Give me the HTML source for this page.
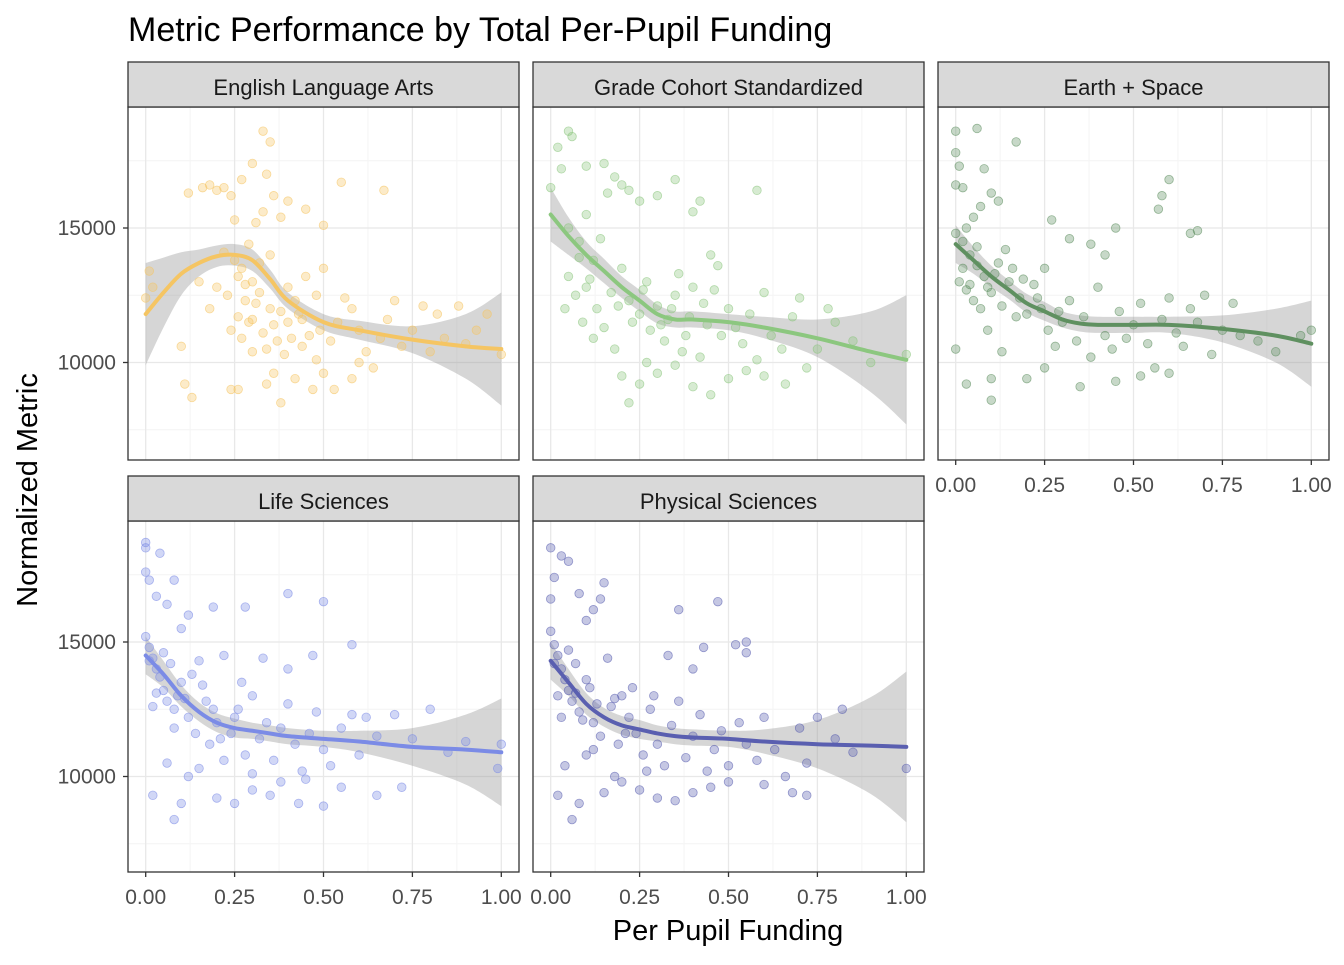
<!DOCTYPE html>
<html><head><meta charset="utf-8"><style>
html,body{margin:0;padding:0;background:#fff;}
svg text{font-family:"Liberation Sans",Arial,sans-serif;}
</style></head><body>
<svg id="chart" width="1344" height="960" viewBox="0 0 1344 960" xmlns="http://www.w3.org/2000/svg">
<rect width="1344" height="960" fill="#fff"/>
<text x="128" y="41" font-size="34" fill="#000">Metric Performance by Total Per-Pupil Funding</text>
<text x="728" y="940" font-size="29" text-anchor="middle" fill="#000">Per Pupil Funding</text>
<text transform="translate(37,490) rotate(-90)" font-size="29" text-anchor="middle" fill="#000">Normalized Metric</text>
</svg>
<script>
const panelTitles = ["English Language Arts","Grade Cohort Standardized","Earth + Space","Life Sciences","Physical Sciences"];
const xTicks = [0,0.25,0.5,0.75,1];
const xTickLabels = ["0.00","0.25","0.50","0.75","1.00"];
const yTicks = [10000,15000];
const yTickLabels = ["10000","15000"];
const ptColors = ["#f5c563","#8cc77f","#5f9060","#7b8be6","#5a5fb0"];
const fitX = [0,0.05,0.1,0.15,0.2,0.25,0.3,0.35,0.4,0.5,0.6,0.75,0.9,1.0];
const fitELA = [11.8,12.6,13.3,13.7,13.95,14.0,13.8,13.1,12.3,11.5,11.2,10.85,10.6,10.5];
const seELA  = [1.9,1.3,0.8,0.5,0.4,0.4,0.4,0.35,0.3,0.3,0.35,0.5,1.2,2.1];
const fitGCS = [15.5,14.7,14.0,13.4,12.8,12.3,11.8,11.6,11.6,11.5,11.3,10.9,10.4,10.1];
const seGCS  = [1.0,0.7,0.5,0.45,0.4,0.4,0.35,0.3,0.3,0.3,0.4,0.7,1.5,2.4];
const fitES  = [14.4,13.8,13.2,12.7,12.2,11.9,11.6,11.45,11.4,11.4,11.4,11.25,11.0,10.7];
const seES   = [0.7,0.5,0.4,0.35,0.35,0.35,0.3,0.3,0.3,0.3,0.3,0.5,1.0,1.6];
const fitLS  = [14.5,13.8,13.0,12.4,12.0,11.8,11.7,11.6,11.5,11.4,11.3,11.1,11.0,10.9];
const seLS   = [0.7,0.5,0.4,0.35,0.35,0.35,0.3,0.3,0.3,0.3,0.4,0.7,1.3,2.0];
const fitPS  = [14.3,13.5,12.7,12.2,11.9,11.75,11.6,11.5,11.45,11.4,11.3,11.2,11.15,11.1];
const sePS   = [0.7,0.5,0.4,0.35,0.35,0.35,0.3,0.3,0.3,0.3,0.45,0.9,1.8,2.8];
const ptsELA = [[0,12.4],[0.01,13.4],[0.02,12.8],[0.1,10.6],[0.11,9.2],[0.13,8.7],[0.12,16.3],[0.16,16.5],[0.18,16.6],[0.2,16.4],[0.22,16.5],[0.24,16.2],[0.25,15.3],[0.26,9.0],[0.24,9.0],[0.27,16.8],[0.3,17.4],[0.33,18.6],[0.35,18.2],[0.34,17.0],[0.33,15.6],[0.31,15.2],[0.36,16.2],[0.38,15.4],[0.4,16.0],[0.45,15.7],[0.5,15.1],[0.55,16.7],[0.67,16.4],[0.22,14.1],[0.25,13.8],[0.27,13.5],[0.29,14.4],[0.3,13.0],[0.32,12.6],[0.28,12.3],[0.26,11.7],[0.24,11.2],[0.3,11.6],[0.33,11.1],[0.35,12.0],[0.37,10.8],[0.39,10.3],[0.4,11.5],[0.42,12.3],[0.44,10.6],[0.46,11.0],[0.48,10.1],[0.5,9.6],[0.52,10.8],[0.54,11.5],[0.56,12.4],[0.58,12.0],[0.6,11.2],[0.62,10.4],[0.64,9.8],[0.66,10.9],[0.68,11.6],[0.7,12.3],[0.72,10.6],[0.75,11.2],[0.78,12.1],[0.8,10.4],[0.82,11.8],[0.84,10.9],[0.88,12.1],[0.9,10.7],[0.93,11.2],[0.96,11.8],[1.0,10.3],[0.38,8.5],[0.34,9.2],[0.36,9.6],[0.42,9.4],[0.47,9.0],[0.53,9.0],[0.58,9.4],[0.2,12.8],[0.18,12.0],[0.15,13.0],[0.3,10.4],[0.4,12.8],[0.45,13.2],[0.48,12.5],[0.5,13.5],[0.35,14.0],[0.32,13.7],[0.27,10.9],[0.38,11.9],[0.43,11.8],[0.6,10.0],[0.28,12.9],[0.31,12.2],[0.36,11.4],[0.41,10.9],[0.44,11.6],[0.49,11.2],[0.26,13.2],[0.29,11.5],[0.34,10.5],[0.23,12.5]];
const ptsGCS = [[0,16.5],[0.02,18.0],[0.05,18.6],[0.06,18.4],[0.03,17.2],[0.1,17.3],[0.15,17.4],[0.18,16.9],[0.16,16.3],[0.2,16.6],[0.22,16.4],[0.25,16.0],[0.3,16.2],[0.35,16.8],[0.4,15.6],[0.42,16.0],[0.58,16.4],[0.05,15.0],[0.08,14.5],[0.1,15.5],[0.12,13.8],[0.14,14.6],[0.05,13.2],[0.07,12.5],[0.1,12.8],[0.13,12.0],[0.15,11.3],[0.17,12.6],[0.2,13.5],[0.22,12.3],[0.25,11.8],[0.27,13.0],[0.28,11.2],[0.3,12.1],[0.32,10.8],[0.33,11.6],[0.35,12.5],[0.37,10.4],[0.38,11.0],[0.4,12.8],[0.42,10.2],[0.44,11.4],[0.45,14.0],[0.47,13.6],[0.5,12.0],[0.52,11.3],[0.54,10.7],[0.56,11.8],[0.58,10.1],[0.6,12.6],[0.62,11.0],[0.65,10.5],[0.68,11.7],[0.7,12.4],[0.72,9.8],[0.75,10.5],[0.78,12.0],[0.8,11.5],[0.85,10.8],[0.9,10.0],[1.0,10.3],[0.2,9.5],[0.22,8.5],[0.25,9.2],[0.3,9.6],[0.4,9.1],[0.45,8.8],[0.5,9.4],[0.55,9.7],[0.18,10.5],[0.27,10.0],[0.35,9.9],[0.09,11.5],[0.12,10.9],[0.04,12.0],[0.6,9.5],[0.66,9.2],[0.46,12.7],[0.36,13.3],[0.08,13.9],[0.11,13.1],[0.19,12.1],[0.23,11.5],[0.26,12.7],[0.31,11.4],[0.34,12.0],[0.39,11.7],[0.43,12.2],[0.48,11.0]];
const ptsES = [[0,18.6],[0,17.8],[0.01,17.3],[0,16.6],[0.02,16.5],[0.06,18.7],[0.08,17.2],[0.1,16.3],[0.12,16.0],[0.17,18.2],[0.07,15.8],[0.05,15.4],[0.03,15.0],[0,14.8],[0.02,14.5],[0.04,14.0],[0.06,13.6],[0.08,13.2],[0.01,13.0],[0.03,12.7],[0.05,12.3],[0.07,12.0],[0.1,12.6],[0.12,13.7],[0.14,14.2],[0.16,13.5],[0.18,12.4],[0.2,11.8],[0.22,12.9],[0.24,12.0],[0.26,11.2],[0.28,10.6],[0.3,11.5],[0.32,12.3],[0.34,10.8],[0.36,11.7],[0.38,10.2],[0.4,12.8],[0.42,11.0],[0.44,10.5],[0.46,11.9],[0.48,10.9],[0.5,11.4],[0.52,12.2],[0.54,10.7],[0.56,9.8],[0.58,11.6],[0.6,12.4],[0.62,11.1],[0.64,10.6],[0.66,12.0],[0.68,11.5],[0.7,12.5],[0.72,10.3],[0.75,11.2],[0.78,12.2],[0.8,11.0],[0.85,10.8],[0.9,10.4],[0.97,11.0],[1.0,11.2],[0.57,15.7],[0.58,16.2],[0.6,16.8],[0.66,14.8],[0.68,14.9],[0.27,15.3],[0.32,14.6],[0.38,14.4],[0.42,14.0],[0.45,15.0],[0.2,9.4],[0.25,9.8],[0.1,9.4],[0.03,9.2],[0.1,8.6],[0.35,9.1],[0.45,9.3],[0.52,9.5],[0.6,9.6],[0.15,13.0],[0.25,13.5],[0.09,11.2],[0.13,10.4],[0,10.5],[0.02,13.5],[0.04,12.9],[0.06,14.3],[0.09,12.8],[0.11,13.3],[0.13,12.1],[0.17,11.7],[0.19,13.1],[0.23,12.4],[0.29,11.9]];
const ptsLS = [[0,18.7],[0,18.5],[0,17.6],[0.01,17.3],[0.04,18.3],[0.03,16.7],[0.06,16.4],[0.08,17.3],[0.1,15.5],[0.12,16.0],[0.19,16.3],[0.28,16.3],[0.4,16.8],[0.5,16.5],[0,15.2],[0.01,14.8],[0.02,14.4],[0.03,14.0],[0.04,13.7],[0.05,13.2],[0.06,12.8],[0.07,14.2],[0.08,12.5],[0.1,13.5],[0.12,12.2],[0.14,11.6],[0.15,14.3],[0.17,12.8],[0.18,11.2],[0.2,12.0],[0.22,14.5],[0.24,11.6],[0.26,12.5],[0.28,10.8],[0.3,13.0],[0.32,11.4],[0.34,12.0],[0.36,10.6],[0.38,11.8],[0.4,12.7],[0.42,11.2],[0.44,10.2],[0.46,11.6],[0.48,12.4],[0.5,11.0],[0.52,10.4],[0.55,11.8],[0.58,12.3],[0.6,10.8],[0.62,12.2],[0.65,11.5],[0.7,12.3],[0.75,11.4],[0.8,12.5],[0.85,10.9],[0.9,11.3],[1.0,11.2],[0.99,10.3],[0.58,14.9],[0.47,14.5],[0.4,14.0],[0.33,14.4],[0.02,9.3],[0.08,8.4],[0.1,9.0],[0.2,9.2],[0.25,9.0],[0.3,9.5],[0.35,9.3],[0.43,9.0],[0.5,8.9],[0.55,9.6],[0.65,9.3],[0.72,9.6],[0.15,10.3],[0.06,10.5],[0.12,10.0],[0.22,10.6],[0.3,10.1],[0.38,9.8],[0.45,9.9],[0.27,13.5],[0.08,11.8],[0.02,12.6],[0.16,13.4],[0.01,14.3],[0.03,13.1],[0.05,14.6],[0.09,13.0],[0.11,12.9],[0.13,13.8],[0.19,12.5],[0.21,11.4],[0.25,12.2]];
const ptsPS = [[0,18.5],[0.01,17.4],[0,16.6],[0.03,18.2],[0.05,18.0],[0.08,16.8],[0.1,15.8],[0.12,16.2],[0.14,16.6],[0.15,17.2],[0.36,16.2],[0.47,16.5],[0.55,15.0],[0,15.4],[0.01,14.9],[0.02,14.5],[0.03,14.0],[0.04,13.6],[0.05,13.2],[0.06,12.8],[0.07,14.2],[0.08,12.4],[0.1,13.6],[0.12,12.0],[0.14,11.5],[0.16,14.4],[0.17,12.6],[0.19,11.2],[0.2,13.0],[0.22,12.2],[0.24,11.6],[0.26,10.8],[0.28,12.5],[0.3,11.2],[0.32,10.4],[0.34,11.9],[0.36,12.8],[0.38,10.7],[0.4,11.5],[0.42,12.3],[0.44,10.2],[0.46,11.0],[0.48,11.7],[0.5,10.4],[0.53,12.0],[0.55,11.2],[0.58,10.6],[0.6,12.2],[0.63,11.0],[0.66,10.0],[0.7,11.8],[0.72,10.5],[0.75,12.2],[0.8,11.4],[0.82,12.5],[0.85,10.9],[1.0,10.3],[0.33,14.5],[0.4,14.0],[0.43,14.8],[0.52,14.9],[0.55,14.6],[0.02,9.3],[0.06,8.4],[0.08,9.0],[0.15,9.4],[0.2,9.8],[0.25,9.5],[0.3,9.2],[0.35,9.1],[0.4,9.4],[0.45,9.6],[0.5,9.8],[0.6,9.7],[0.68,9.4],[0.72,9.3],[0.04,10.4],[0.1,10.8],[0.18,10.0],[0.27,10.2],[0.12,11.0],[0.23,13.3],[0.29,13.0],[0.01,14.2],[0.02,13.0],[0.03,12.2],[0.05,14.7],[0.07,13.1],[0.09,12.1],[0.11,13.3],[0.13,12.7],[0.18,12.9],[0.21,11.6]];

const NS="http://www.w3.org/2000/svg";
const svg=document.getElementById('chart');
function mk(tag,attrs,parent){const e=document.createElementNS(NS,tag);for(const k in attrs)e.setAttribute(k,attrs[k]);(parent||svg).appendChild(e);return e;}
function smoothPath(pts,start){
  let d=(start?'M':'L')+pts[0][0]+','+pts[0][1];
  for(let i=0;i<pts.length-1;i++){
    const p0=pts[i-1]||pts[i],p1=pts[i],p2=pts[i+1],p3=pts[i+2]||p2;
    const c1=[p1[0]+(p2[0]-p0[0])/6,p1[1]+(p2[1]-p0[1])/6];
    const c2=[p2[0]-(p3[0]-p1[0])/6,p2[1]-(p3[1]-p1[1])/6];
    d+='C'+c1.join(',')+' '+c2.join(',')+' '+p2.join(',');
  }
  return d;
}
const panels=[
 {col:0,row:0,pts:ptsELA,fit:fitELA,se:seELA,xlab:false},
 {col:1,row:0,pts:ptsGCS,fit:fitGCS,se:seGCS,xlab:false},
 {col:2,row:0,pts:ptsES,fit:fitES,se:seES,xlab:true},
 {col:0,row:1,pts:ptsLS,fit:fitLS,se:seLS,xlab:true},
 {col:1,row:1,pts:ptsPS,fit:fitPS,se:sePS,xlab:true}];
const colL=[128,533,938], W=391;
const rowStrip=[62,476], rowTop=[107,521], rowBot=[460,872];
const y15=[228,642], pxPer5k=134.5;
panels.forEach((p,i)=>{
  const L=colL[p.col],R=L+W,T=rowTop[p.row],B=rowBot[p.row];
  const xs=v=>L+17.7+v*(W-35.4);
  const ys=v=>y15[p.row]-(v-15000)/5000*pxPer5k;
  const g=mk('g',{});
  
  
  mk('rect',{x:L,y:T,width:W,height:B-T,fill:'#fff'},g);
  [7500,12500,17500].forEach(v=>mk('line',{x1:L,x2:R,y1:ys(v),y2:ys(v),stroke:'#f4f4f4','stroke-width':1},g));
  [0.125,0.375,0.625,0.875].forEach(v=>mk('line',{x1:xs(v),x2:xs(v),y1:T,y2:B,stroke:'#f4f4f4','stroke-width':1},g));
  yTicks.forEach(v=>mk('line',{x1:L,x2:R,y1:ys(v),y2:ys(v),stroke:'#e8e8e8','stroke-width':1.3},g));
  xTicks.forEach(v=>mk('line',{x1:xs(v),x2:xs(v),y1:T,y2:B,stroke:'#e8e8e8','stroke-width':1.3},g));
  const up=[],lo=[],ln=[];
  fitX.forEach((x,k)=>{up.push([xs(x),ys((p.fit[k]+p.se[k])*1000)]);lo.push([xs(x),ys((p.fit[k]-p.se[k])*1000)]);ln.push([xs(x),ys(p.fit[k]*1000)]);});
  const rib=mk('path',{d:smoothPath(up,true)+smoothPath(lo.slice().reverse(),false)+'Z',fill:'#999',opacity:0.4},g);
  
  
  const pg=mk('g',{},g);
  
  
  p.pts.forEach(d=>{
    const c=mk('circle',{cx:xs(d[0]),cy:ys(d[1]*1000),r:4.3,fill:ptColors[i],'fill-opacity':0.35,stroke:ptColors[i],'stroke-opacity':0.6,'stroke-width':0.8},pg);
    
    
  });
  const fl=mk('path',{d:smoothPath(ln,true),fill:'none',stroke:ptColors[i],'stroke-width':4,'stroke-linejoin':'round','stroke-linecap':'round'},g);
  
  
  mk('rect',{x:L,y:T,width:W,height:B-T,fill:'none',stroke:'#333','stroke-width':1.3},g);
  const st=mk('rect',{x:L,y:rowStrip[p.row],width:W,height:T-rowStrip[p.row],fill:'#d9d9d9',stroke:'#333','stroke-width':1.3},g);
  
  
  const tt=mk('text',{x:L+W/2,y:rowStrip[p.row]+33,'font-size':22,'text-anchor':'middle',fill:'#1a1a1a'},g);
  tt.textContent=panelTitles[i];
  
  
  if(p.col===0){
    yTicks.forEach((v,k)=>{
      mk('line',{x1:L-5,x2:L,y1:ys(v),y2:ys(v),stroke:'#333','stroke-width':1.3},g);
      const t=mk('text',{x:L-12,y:ys(v)+7,'font-size':21,'text-anchor':'end',fill:'#4d4d4d'},g);
      t.textContent=yTickLabels[k];
      
      
    });
  }
  if(p.xlab){
    xTicks.forEach((v,k)=>{
      mk('line',{x1:xs(v),x2:xs(v),y1:B,y2:B+5,stroke:'#333','stroke-width':1.3},g);
      const t=mk('text',{x:xs(v),y:B+32,'font-size':21,'text-anchor':'middle',fill:'#4d4d4d'},g);
      t.textContent=xTickLabels[k];
      
      
    });
  }
});
</script>
</body></html>
